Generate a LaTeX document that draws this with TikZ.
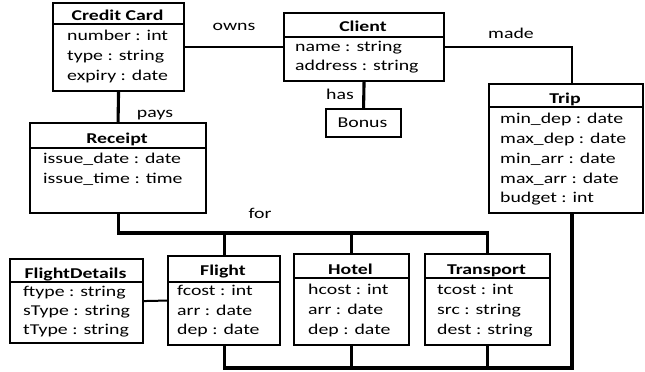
\documentclass[tikz,border=0pt]{standalone}
\usepackage{fontspec}
\setmainfont{Carlito}[FakeStretch=1.32]
\usetikzlibrary{calc}
\newcommand\umltext{\fontsize{15}{18}\selectfont}
\tikzset{
  cls/.style={draw, line width=2.1pt, inner sep=0pt, anchor=north west},
  div/.style={line width=1.7pt},
  ttl/.style={font=\umltext\bfseries, inner sep=0pt, text height=13pt, text depth=3pt},
  attr/.style={font=\umltext, anchor=west, inner sep=0pt, text height=13pt, text depth=3pt},
  lbl/.style={font=\umltext, inner sep=0pt, text height=13pt, text depth=3pt},
  link/.style={line width=2pt},
  bus/.style={line width=3.1pt},
}
\begin{document}
\begin{tikzpicture}[x=1pt, y=1pt]
\useasboundingbox (0,0) rectangle (645,-372);

% ---- class boxes ----
\node[cls, minimum width=131pt, minimum height=88pt]  (cc) at (52,-2) {};
\node[cls, minimum width=160pt, minimum height=68pt]  (cl) at (283,-12) {};
\node[cls, minimum width=154pt, minimum height=129pt] (tp) at (488,-83) {};
\node[cls, minimum width=176pt, minimum height=90pt]  (rc) at (29,-122) {};
\node[cls, minimum width=75pt,  minimum height=28pt]  (bn) at (325,-108) {};
\node[cls, minimum width=133pt, minimum height=84pt]  (fd) at (9,-258) {};
\node[cls, minimum width=112pt, minimum height=89pt]  (fl) at (167,-255) {};
\node[cls, minimum width=115pt, minimum height=91pt]  (ho) at (293,-253) {};
\node[cls, minimum width=125pt, minimum height=91pt]  (tr) at (424,-253) {};

% ---- title dividers ----
\draw[div] ($(cc.north west)+(0,-22)$) -- ($(cc.north east)+(0,-22)$);
\draw[div] ($(cl.north west)+(0,-25)$) -- ($(cl.north east)+(0,-25)$);
\draw[div] ($(tp.north west)+(0,-24)$) -- ($(tp.north east)+(0,-24)$);
\draw[div] ($(rc.north west)+(0,-26)$) -- ($(rc.north east)+(0,-26)$);
\draw[div] ($(fd.north west)+(0,-24)$) -- ($(fd.north east)+(0,-24)$);
\draw[div] ($(fl.north west)+(0,-27)$) -- ($(fl.north east)+(0,-27)$);
\draw[div] ($(ho.north west)+(0,-25)$) -- ($(ho.north east)+(0,-25)$);
\draw[div] ($(tr.north west)+(0,-25)$) -- ($(tr.north east)+(0,-25)$);

% ---- titles ----
\node[ttl] (ccT) at (117.5,-15) {Credit Card};
\node[ttl] (clT) at (363,-26) {Client};
\node[ttl] (tpT) at (565,-98) {Trip};
\node[ttl] (rcT) at (117,-138) {Receipt};
\node[lbl] (bnT) at (362.5,-122) {Bonus};
\node[ttl] (fdT) at (75.5,-273) {FlightDetails};
\node[ttl] (flT) at (223,-270) {Flight};
\node[ttl] (hoT) at (350.5,-269) {Hotel};
\node[ttl] (trT) at (486.5,-269) {Transport};

% ---- attributes ----
\node[attr] (cc1) at (67,-35) {number : int};
\node[attr] (cc2) at (67,-55) {type : string};
\node[attr] (cc3) at (67,-75) {expiry : date};

\node[attr] (cl1) at (295,-46) {name : string};
\node[attr] (cl2) at (295,-65) {address : string};

\node[attr] (tp1) at (500,-118) {min\_dep : date};
\node[attr] (tp2) at (500,-138) {max\_dep : date};
\node[attr] (tp3) at (500,-158) {min\_arr : date};
\node[attr] (tp4) at (500,-178) {max\_arr : date};
\node[attr] (tp5) at (500,-197) {budget : int};

\node[attr] (rc1) at (43,-158) {issue\_date : date};
\node[attr] (rc2) at (43,-178) {issue\_time : time};

\node[attr] (fd1) at (23,-291) {ftype : string};
\node[attr] (fd2) at (23,-310) {sType : string};
\node[attr] (fd3) at (23,-329) {tType : string};

\node[attr] (fl1) at (177,-290) {fcost : int};
\node[attr] (fl2) at (177,-310) {arr : date};
\node[attr] (fl3) at (177,-329) {dep : date};

\node[attr] (ho1) at (308,-289) {hcost : int};
\node[attr] (ho2) at (308,-309) {arr : date};
\node[attr] (ho3) at (308,-329) {dep : date};

\node[attr] (tr1) at (437,-289) {tcost : int};
\node[attr] (tr2) at (437,-309) {src : string};
\node[attr] (tr3) at (437,-329) {dest : string};

% ---- association labels ----
\node[lbl] (owns) at (234,-25) {owns};
\node[lbl] (made) at (511,-33) {made};
\node[lbl] (has)  at (340,-94) {has};
\node[lbl] (pays) at (155,-112) {pays};
\node[lbl] (for)  at (260,-213) {for};

% ---- associations ----
\coordinate (tripIn)   at (572,-83);
\coordinate (tripOut)  at (572,-212);
\coordinate (forBus)   at (0,-233);
\coordinate (tripBus)  at (0,-368);

\draw[link] (cc.east) -- (cl.west);
\draw[link] (cl.east) -| (tripIn);
\draw[bus]  (cl.south) -- (bn.north);
\draw[bus]  (cc.south) -- (rc.north);
\draw[link] (fd.east) -- (fl.west);

% receipt "for" bus to the bookings
\draw[bus] (rc.south) |- (tr.north |- forBus) -- (tr.north);
\draw[bus] (fl.north |- forBus) -- (fl.north);
\draw[bus] (ho.north |- forBus) -- (ho.north);

% trip bus to the bookings
\draw[bus] (tripOut) |- (fl.south |- tripBus) -- (fl.south);
\draw[bus] (ho.south) -- (ho.south |- tripBus);
\draw[bus] (tr.south) -- (tr.south |- tripBus);
\end{tikzpicture}
\end{document}
